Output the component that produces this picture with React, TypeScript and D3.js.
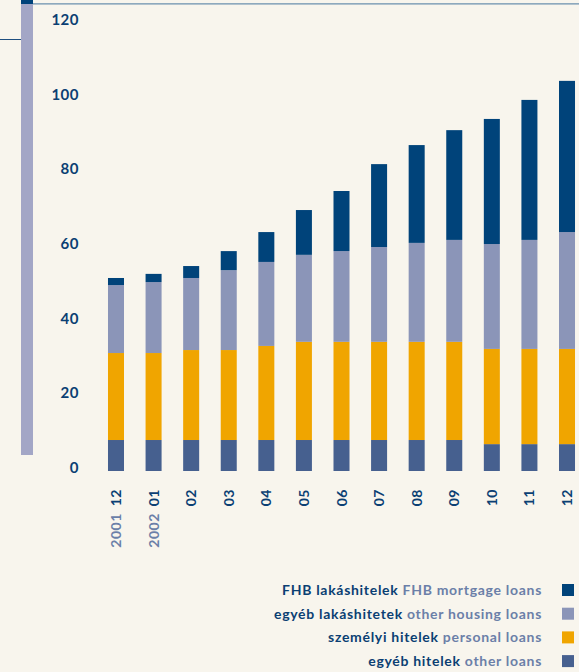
import { useEffect, useRef } from 'react';
import * as d3 from 'd3';

const months = ['12', '01', '02', '03', '04', '05', '06', '07', '08', '09', '10', '11', '12'];
const years = ['2001', '2002', '', '', '', '', '', '', '', '', '', '', ''];

// segment values, bottom to top
const otherLoans = [8.3, 8.3, 8.3, 8.3, 8.3, 8.3, 8.3, 8.3, 8.3, 8.3, 7.2, 7.2, 7.2];
const personalLoans = [23.3, 23.3, 24.1, 24.1, 25.2, 26.3, 26.3, 26.3, 26.3, 26.3, 25.5, 25.5, 25.5];
const otherHousing = [18.2, 19.0, 19.3, 21.4, 22.5, 23.3, 24.3, 25.4, 26.5, 27.3, 28.1, 29.2, 31.3];
const fhbMortgage = [1.9, 2.2, 3.2, 5.1, 8.0, 12.0, 16.1, 22.2, 26.2, 29.4, 33.5, 37.5, 40.5];

const yTicks = [0, 20, 40, 60, 80, 100, 120];

const seriesKeys = ['other', 'personal', 'housing', 'fhb'];
const legendHu = ['FHB lakáshitelek', 'egyéb lakáshitetek', 'személyi hitelek', 'egyéb hitelek'];
const legendEn = ['FHB mortgage loans', 'other housing loans', 'personal loans', 'other loans'];
const legendKeys = ['fhb', 'housing', 'personal', 'other'];

const colors: Record<string, string> = {
  fhb: '#00437a',
  housing: '#8b95b8',
  personal: '#f0a500',
  other: '#46608f',
};

const W = 579;
const H = 672;
const BG = '#f8f5ed';
const DARK = '#0b3f73';
const LIGHT = '#6b7fa8';
const FONT = 'Lato, "Open Sans", sans-serif';

export default function App() {
  const svgRef = useRef<SVGSVGElement>(null);

  useEffect(() => {
    document.body.style.margin = '0';
    document.body.style.background = BG;
    if (!svgRef.current) return;

    const svg = d3.select(svgRef.current);
    svg.selectAll('*').remove();

    const cats = months.map((m, i) => `${i}`);
    const table = cats.map((c, i) => ({
      cat: c,
      other: otherLoans[i],
      personal: personalLoans[i],
      housing: otherHousing[i],
      fhb: fhbMortgage[i],
    }));

    const x = d3.scaleBand<string>()
      .domain(cats)
      .range([97.2, 585.8])
      .paddingInner(0.574)
      .paddingOuter(0.287);

    const y = d3.scaleLinear()
      .domain([0, 120])
      .range([471, 23]);

    svg.append('rect')
      .attr('width', W)
      .attr('height', H)
      .attr('fill', BG);

    // decorative side bar and rules
    svg.append('rect')
      .attr('x', 21).attr('y', 0)
      .attr('width', 12).attr('height', 455)
      .attr('fill', '#a3a6c6');
    svg.append('rect')
      .attr('x', 21).attr('y', 0)
      .attr('width', 12).attr('height', 4)
      .attr('fill', '#00437a');
    svg.append('line')
      .attr('x1', 33).attr('x2', W)
      .attr('y1', 3.8).attr('y2', 3.8)
      .attr('stroke', '#6a8fae')
      .attr('stroke-width', 1.3);
    svg.append('line')
      .attr('x1', 0).attr('x2', 21)
      .attr('y1', 39.5).attr('y2', 39.5)
      .attr('stroke', '#1f4f80')
      .attr('stroke-width', 1);

    // y labels
    svg.append('g')
      .selectAll('text')
      .data(yTicks)
      .enter()
      .append('text')
      .attr('x', 79)
      .attr('y', d => y(d) - 3.5)
      .attr('dy', '0.36em')
      .attr('text-anchor', 'end')
      .attr('fill', DARK)
      .attr('font-family', FONT)
      .attr('font-weight', 'bold')
      .attr('font-size', '15px')
      .attr('letter-spacing', '0.5px')
      .text(d => d);

    // stacked bars
    const stacked = d3.stack<any>().keys(seriesKeys)(table);

    svg.append('g')
      .selectAll('g')
      .data(stacked)
      .enter()
      .append('g')
      .attr('fill', d => colors[d.key])
      .selectAll('rect')
      .data(d => d)
      .enter()
      .append('rect')
      .attr('x', d => x(d.data.cat) as number)
      .attr('width', x.bandwidth())
      .attr('y', d => y(d[1]))
      .attr('height', d => y(d[0]) - y(d[1]));

    // x labels, rotated
    const xl = svg.append('g')
      .selectAll('text')
      .data(cats)
      .enter()
      .append('text')
      .attr('transform', (d) => `translate(${(x(d) as number) + x.bandwidth() / 2 + 5},489) rotate(-90)`)
      .attr('text-anchor', 'end')
      .attr('font-family', FONT)
      .attr('font-weight', 'bold')
      .attr('font-size', '14px')
      .attr('letter-spacing', '0.5px');
    xl.append('tspan')
      .attr('fill', LIGHT)
      .text((d, i) => (years[i] ? years[i] + ' ' : ''));
    xl.append('tspan')
      .attr('fill', DARK)
      .attr('dx', (d, i) => (years[i] ? 3 : 0))
      .text((d, i) => months[i]);

    // legend
    const lg = svg.append('g')
      .selectAll('g')
      .data(legendKeys)
      .enter()
      .append('g')
      .attr('transform', (d, i) => `translate(0,${590 + i * 23.7})`);
    lg.append('rect')
      .attr('x', 562).attr('y', -6)
      .attr('width', 12).attr('height', 12)
      .attr('fill', d => colors[d]);
    const lt = lg.append('text')
      .attr('x', 542)
      .attr('y', 0)
      .attr('dy', '0.36em')
      .attr('text-anchor', 'end')
      .attr('font-family', FONT)
      .attr('font-weight', 'bold')
      .attr('font-size', '14px')
      .attr('letter-spacing', '0.7px');
    lt.append('tspan')
      .attr('fill', DARK)
      .text((d, i) => legendHu[i] + ' ');
    lt.append('tspan')
      .attr('fill', LIGHT)
      .text((d, i) => legendEn[i]);
  }, []);

  return (
    <svg ref={svgRef} width={W} height={H} viewBox={`0 0 ${W} ${H}`} style={{ display: 'block' }}></svg>
  );
}
